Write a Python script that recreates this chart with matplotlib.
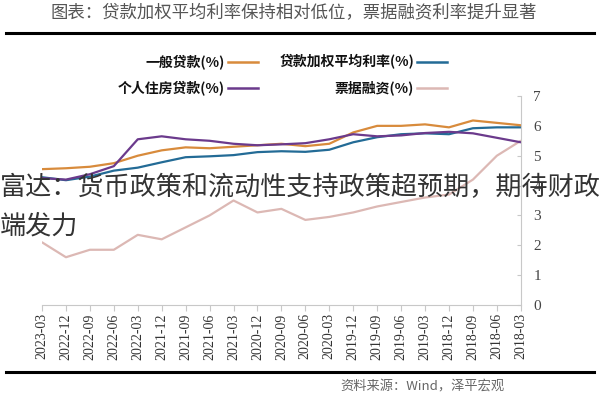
import matplotlib.pyplot as plt
from matplotlib.lines import Line2D
import numpy as np

plt.rcParams['font.family'] = ['Noto Sans CJK SC', 'DejaVu Sans']

dates = ['2018-03', '2018-06', '2018-09', '2018-12', '2019-03', '2019-06', '2019-09',
         '2019-12', '2020-03', '2020-06', '2020-09', '2020-12', '2021-03', '2021-06',
         '2021-09', '2021-12', '2022-03', '2022-06', '2022-09', '2022-12', '2023-03']

weighted = [5.95, 5.95, 5.92, 5.72, 5.75, 5.72, 5.62, 5.45, 5.20, 5.13, 5.15,
            5.12, 5.02, 4.98, 4.95, 4.78, 4.60, 4.50, 4.30, 4.18, 4.28]
general = [6.02, 6.10, 6.18, 5.95, 6.05, 6.00, 6.00, 5.78, 5.40, 5.32, 5.40,
           5.35, 5.30, 5.25, 5.28, 5.18, 5.00, 4.75, 4.63, 4.58, 4.55]
mortgage = [5.45, 5.60, 5.75, 5.80, 5.76, 5.68, 5.65, 5.72, 5.55, 5.42, 5.38,
            5.35, 5.40, 5.50, 5.55, 5.65, 5.55, 4.65, 4.38, 4.20, 4.25]
bill = [5.50, 5.00, 4.20, 3.70, 3.60, 3.45, 3.30, 3.10, 2.95, 2.85, 3.22,
        3.10, 3.50, 3.00, 2.60, 2.20, 2.35, 1.85, 1.85, 1.60, 2.10]

labels = ['贷款加权平均利率(%)', '一般贷款(%)', '票据融资(%)', '个人住房贷款(%)']
colors = ['#236b96', '#d88b3c', '#dcb8b4', '#6b3a8c']

title = '图表：贷款加权平均利率保持相对低位，票据融资利率提升显著'
source = '资料来源：Wind，泽平宏观'
overlay = '富达：货币政策和流动性支持政策超预期，期待财政\n端发力'

fig = plt.figure(figsize=(6, 4), dpi=100)
ax = fig.add_axes([0.07, 0.2375, 0.798, 0.5225])

x = np.arange(len(dates))
series = [weighted, general, bill, mortgage]
for vals, c in zip(series, colors):
    ax.plot(x, vals, color=c, lw=1.6, solid_capstyle='round')

ax.set_xlim(len(dates) - 1, 0)
ax.set_ylim(0, 7)
ax.set_xticks(x)
ax.set_xticklabels(dates, rotation=90, fontsize=10, color='#333333',
                   family=['Liberation Serif'])
ax.set_yticks(range(8))
ax.set_yticklabels([str(v) for v in range(8)], fontsize=11, color='#444444',
                   family=['Liberation Serif'])
ax.yaxis.tick_right()
for s in ['top', 'left']:
    ax.spines[s].set_visible(False)
for s in ['bottom', 'right']:
    ax.spines[s].set_color('#c8c8c8')
ax.tick_params(axis='x', length=4, color='#c8c8c8', pad=2)
ax.tick_params(axis='y', direction='in', length=3, color='#c8c8c8', pad=9)

# legend drawn by hand, mirrored layout: label then line
leg_pos = [(0.69, 0.845), (0.375, 0.845), (0.69, 0.78), (0.375, 0.78)]
for lab, c, (lx, ly) in zip(labels, colors, leg_pos):
    fig.text(lx, ly, lab, ha='right', va='center', fontsize=10,
             fontweight='bold', color='#111111')
    fig.add_artist(Line2D([lx + 0.005, lx + 0.055], [ly, ly], color=c, lw=1.8,
                          transform=fig.transFigure))

fig.text(0.49, 0.968, title, ha='center', va='center', fontsize=12.5,
         color='#555555')
fig.add_artist(Line2D([0.01, 0.99], [0.918, 0.918], color='black', lw=2.2,
                      transform=fig.transFigure))
fig.add_artist(Line2D([0.01, 0.99], [0.07, 0.07], color='black', lw=2.2,
                      transform=fig.transFigure))
fig.text(0.84, 0.033, source, ha='right', va='center', fontsize=9.5,
         color='#666666')

fig.text(0.0, 0.483, overlay, ha='left', va='center', fontsize=18.8,
         color='#333333', linespacing=1.55)

fig.savefig('out.png', dpi=100)
